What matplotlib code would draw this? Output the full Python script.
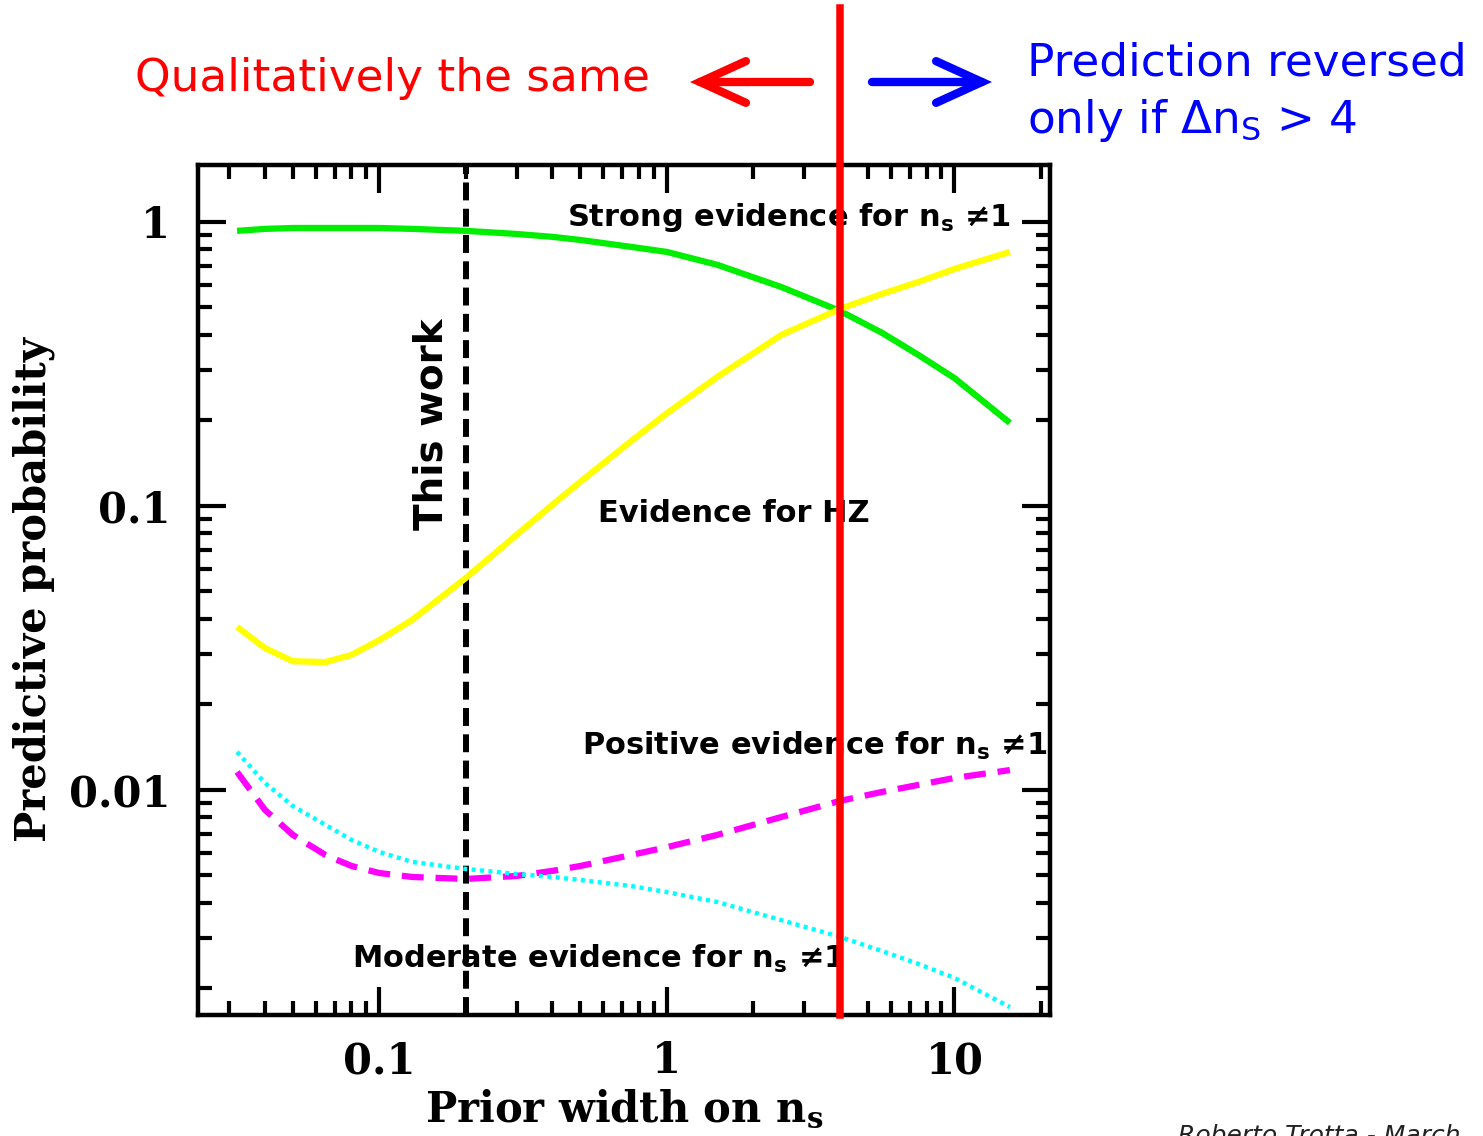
import matplotlib
matplotlib.use("Agg")
import matplotlib.pyplot as plt
from matplotlib.patches import FancyArrowPatch
from matplotlib.ticker import LogLocator, NullFormatter

# Prior width on n_s (shared grid for all curves)
prior_width = [0.032, 0.04, 0.05, 0.065, 0.08, 0.1, 0.13, 0.2, 0.3, 0.4,
               0.5, 0.75, 1.0, 1.5, 2.5, 4.0, 5.6, 7.5, 10.0, 15.6]

# Predictive probabilities
p_strong = [0.930, 0.945, 0.952, 0.952, 0.952, 0.952, 0.945, 0.930, 0.907, 0.886,
            0.864, 0.817, 0.784, 0.706, 0.590, 0.486, 0.407, 0.340, 0.282, 0.196]
p_hz = [0.0375, 0.0316, 0.0284, 0.0282, 0.0299, 0.0337, 0.0397, 0.0558, 0.0791, 0.101,
        0.1216, 0.169, 0.212, 0.285, 0.400, 0.494, 0.558, 0.615, 0.683, 0.784]
p_positive = [0.01157, 0.00851, 0.00695, 0.00590, 0.00540, 0.00510, 0.00494, 0.00486,
              0.00498, 0.00519, 0.00540, 0.00590, 0.00629, 0.00695, 0.00803, 0.00915,
              0.00984, 0.01042, 0.01102, 0.01175]
p_moderate = [0.01361, 0.01059, 0.00878, 0.00753, 0.00667, 0.00605, 0.00558, 0.00527,
              0.00506, 0.00494, 0.00482, 0.00459, 0.00437, 0.00403, 0.00348, 0.00304,
              0.00271, 0.00244, 0.00218, 0.00172]

this_work = 0.2
reversal = 4.0

xticks = [0.1, 1, 10]
xticklabels = ["0.1", "1", "10"]
yticks = [0.01, 0.1, 1]
yticklabels = ["0.01", "0.1", "1"]

fig = plt.figure(figsize=(14.83, 11.36), dpi=100)
ax = fig.add_axes([0.1335, 0.1065, 0.5745, 0.7483])

ax.set_xscale("log")
ax.set_yscale("log")
ax.set_xlim(0.0234, 21.5)
ax.set_ylim(0.001613, 1.587)

ax.plot(prior_width, p_strong, color="#00ee00", lw=4.5,
        solid_capstyle="butt", solid_joinstyle="round")
ax.plot(prior_width, p_hz, color="#ffff00", lw=4.5,
        solid_capstyle="butt", solid_joinstyle="round")
ax.plot(prior_width, p_positive, color="#ff00ff", lw=4.5, dashes=(3.5, 1.9),
        dash_joinstyle="round")
ax.plot(prior_width, p_moderate, color="#00ffff", lw=3.2, dashes=(0.9, 1.0))

ax.axvline(this_work, color="black", lw=4.3, dashes=(3.0, 1.4), zorder=1)
# red line runs up above the frame
ax.axvline(reversal, ymin=0, ymax=1.185, color="#ff0000", lw=5.4, clip_on=False, zorder=5)

# frame + ticks (inward on all sides)
for sp in ax.spines.values():
    sp.set_linewidth(3.2)
ax.xaxis.set_minor_locator(LogLocator(base=10, subs=range(2, 10)))
ax.yaxis.set_minor_locator(LogLocator(base=10, subs=range(2, 10), numticks=20))
ax.set_xticks(xticks)
ax.set_xticklabels(xticklabels)
ax.set_yticks(yticks)
ax.set_yticklabels(yticklabels)
ax.xaxis.set_minor_formatter(NullFormatter())
ax.yaxis.set_minor_formatter(NullFormatter())
ax.tick_params(which="both", direction="in", top=True, right=True, width=3)
ax.tick_params(which="major", length=20)
ax.tick_params(which="minor", length=10)
ax.tick_params(axis="x", which="major", pad=18)
ax.tick_params(axis="y", which="major", pad=20)
for lab in ax.get_xticklabels() + ax.get_yticklabels():
    lab.set_fontfamily("DejaVu Serif")
    lab.set_fontweight("bold")
    lab.set_fontsize(30)

ax.set_xlabel(r"Prior width on $\mathbf{n_s}$", fontsize=30, fontweight="bold",
              family="DejaVu Serif", math_fontfamily="dejavuserif")
ax.xaxis.set_label_coords(0.5, -0.085)
ax.set_ylabel("Predictive probability", fontsize=30, fontweight="bold",
              family="DejaVu Serif")
ax.yaxis.set_label_coords(-0.168, 0.5)

lab_kw = dict(fontsize=22, fontweight="bold", family="DejaVu Sans", color="black")
ax.text(0.449, 0.968, r"Strong evidence for $\mathbf{n_s}$ ≠1", ha="left", va="baseline", **lab_kw)
ax.text(0.575, 0.0879, "Evidence for HZ", ha="left", va="baseline", **lab_kw)
ax.text(0.506, 0.01328, r"Positive evidence for $\mathbf{n_s}$ ≠1", ha="left", va="baseline", **lab_kw)
ax.text(0.0802, 0.00236, r"Moderate evidence for $\mathbf{n_s}$ ≠1", ha="left", va="baseline", **lab_kw)
ax.text(0.152, 0.0823, "This work", rotation=90, ha="center", va="bottom",
        fontsize=28, fontweight="bold", family="DejaVu Sans", color="black")

# annotations above the plot
W, H = 1483.0, 1136.0
fig.text(135 / W, 1 - 78 / H, "Qualitatively the same", color="#ff0000",
         fontsize=32.7, family="DejaVu Sans", ha="left", va="center")
fig.text(1027 / W, 1 - 63 / H, "Prediction reversed", color="#0000ff",
         fontsize=32.7, family="DejaVu Sans", ha="left", va="center")
fig.text(1027 / W, 1 - 120 / H, r"only if $\Delta$n$_\mathrm{S}$ > 4", color="#0000ff",
         fontsize=32.7, family="DejaVu Sans", ha="left", va="center")

arrow_style = "->,head_length=1.1,head_width=0.5"
red_arrow = FancyArrowPatch((810 / W, 1 - 82 / H), (690 / W, 1 - 82 / H),
                            transform=fig.transFigure, arrowstyle=arrow_style,
                            mutation_scale=30, color="#ff0000", lw=6,
                            capstyle="round", joinstyle="miter", shrinkA=0, shrinkB=0)
blue_arrow = FancyArrowPatch((872 / W, 1 - 82 / H), (992 / W, 1 - 82 / H),
                             transform=fig.transFigure, arrowstyle=arrow_style,
                             mutation_scale=30, color="#0000ff", lw=6,
                             capstyle="round", joinstyle="miter", shrinkA=0, shrinkB=0)
fig.add_artist(red_arrow)
fig.add_artist(blue_arrow)

fig.text(1178 / W, 1 - 1124 / H, "Roberto Trotta - March", fontsize=18, style="italic",
         color="#222222", ha="left", va="top")

fig.savefig("out.png", dpi=100)
